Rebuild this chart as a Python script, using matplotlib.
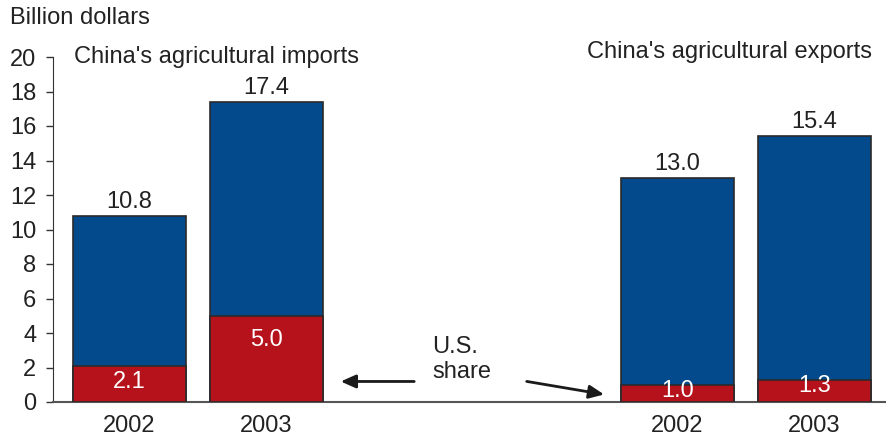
import matplotlib.pyplot as plt

plt.rcParams['font.family'] = ['Liberation Sans', 'DejaVu Sans']

# China's agricultural trade, billion dollars
years = ["2002", "2003", "2002", "2003"]
positions = [0, 1, 4, 5]
totals = [10.8, 17.4, 13.0, 15.4]
us_share = [2.1, 5.0, 1.0, 1.3]
inner_offsets = [-16, -24, -6, -6]  # px, label nudges inside red part

BLUE = "#034a8c"
RED = "#b5121b"
EDGE = "#2a2a2a"
TXT = "#222222"
FS = 17

fig = plt.figure(figsize=(8.87, 4.38), dpi=100)
ax = fig.add_axes([53 / 887, 1 - 402 / 438, 1 - 53 / 887, (402 - 57) / 438])

ax.bar(positions, totals, width=0.825, color=BLUE, edgecolor=EDGE, linewidth=1.2, zorder=2)
ax.bar(positions, us_share, width=0.825, color=RED, edgecolor=EDGE, linewidth=1.2, zorder=3)

for x, t in zip(positions, totals):
    ax.annotate(f"{t:.1f}", (x, t), xytext=(0, 3), textcoords="offset pixels",
                ha="center", va="bottom", fontsize=FS, color=TXT)
for x, s, off in zip(positions, us_share, inner_offsets):
    ax.annotate(f"{s:.1f}", (x, s), xytext=(0, off), textcoords="offset pixels",
                ha="center", va="center", fontsize=FS, color="white", zorder=4)

ax.set_xlim(-0.558, 5.53)
ax.set_ylim(0, 20)
ax.set_yticks(range(0, 21, 2))
ax.set_xticks(positions)
ax.set_xticklabels(years)
ax.tick_params(axis="y", length=5, width=1, color="#333333", pad=7, labelsize=FS, labelcolor=TXT)
ax.tick_params(axis="x", length=0, pad=9, labelsize=FS, labelcolor=TXT)
for side in ["top", "right"]:
    ax.spines[side].set_visible(False)
ax.spines["left"].set_color("#333333")
ax.spines["bottom"].set_color("#555555")
ax.spines["bottom"].set_linewidth(1.5)

ax.text(-0.405, 20, "China's agricultural imports", ha="left", va="center",
        fontsize=FS, color=TXT)
ax.text(5.42, 20.3, "China's agricultural exports", ha="right", va="center",
        fontsize=FS, color=TXT)

# U.S. share callout with arrows
ax.text(2.208, 2.45, "U.S.\nshare", ha="left", va="center", fontsize=FS,
        color=TXT, linespacing=1.2)
arrow = dict(arrowstyle="-|>,head_length=0.9,head_width=0.4", color="#1a1a1a", lw=2)
ax.annotate("", xy=(1.522, 1.19), xytext=(2.099, 1.19), arrowprops=arrow)
ax.annotate("", xy=(3.485, 0.41), xytext=(2.88, 1.22), arrowprops=arrow)

fig.text(10 / 887, 1 - 18 / 438, "Billion dollars", ha="left", va="center",
         fontsize=FS, color=TXT)

fig.savefig("out.png", dpi=100)
